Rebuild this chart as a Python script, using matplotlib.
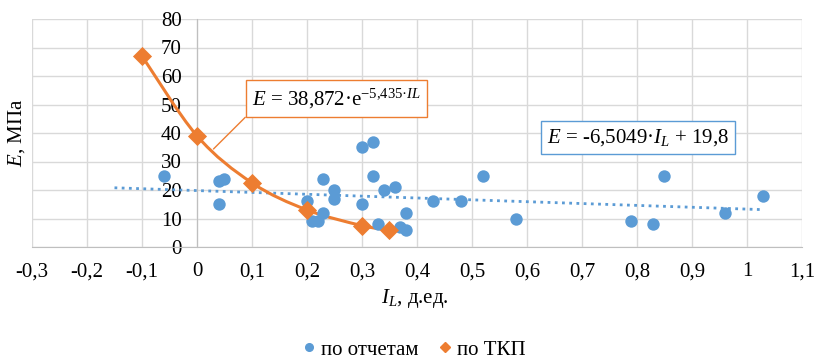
import matplotlib
matplotlib.use("Agg")
import matplotlib.pyplot as plt
from matplotlib.path import Path
from matplotlib.patches import PathPatch
from matplotlib.lines import Line2D

plt.rcParams['font.family'] = ['Liberation Serif', 'DejaVu Serif']
plt.rcParams['mathtext.fontset'] = 'custom'
plt.rcParams['mathtext.rm'] = 'Liberation Serif'
plt.rcParams['mathtext.it'] = 'Liberation Serif:italic'

# data: по отчетам (reports)
il_rep = [-0.06, 0.04, 0.05, 0.04, 0.20, 0.21, 0.22, 0.23, 0.23, 0.25, 0.25,
          0.30, 0.30, 0.32, 0.32, 0.33, 0.34, 0.36, 0.37, 0.38, 0.38,
          0.43, 0.48, 0.52, 0.58, 0.79, 0.83, 0.85, 0.96, 1.03]
e_rep = [25, 23, 24, 15, 16, 9, 9, 24, 12, 20, 17,
         35, 15, 37, 25, 8, 20, 21, 7, 6, 12,
         16, 16, 25, 10, 9, 8, 25, 12, 18]

# data: по ТКП
il_tkp = [-0.1, 0.0, 0.1, 0.2, 0.3, 0.35]
e_tkp = [67, 39, 22.5, 13, 7.5, 6]

# linear trendline range and coefficients
trend_x = [-0.15, 1.03]
slope, intercept = -6.5049, 19.8

x_ticks = [i / 10 for i in range(-3, 12)]
x_labels = ['-0,3', '-0,2', '-0,1', '0', '0,1', '0,2', '0,3', '0,4',
            '0,5', '0,6', '0,7', '0,8', '0,9', '1', '1,1']

blue = '#5B9BD5'
orange = '#ED7D31'

fig = plt.figure(figsize=(8.17, 3.62), dpi=100)
ax = fig.add_axes([32/817, 1 - 247/362, 770/817, 228/362])

ax.set_xlim(-0.3, 1.1)
ax.set_ylim(0, 80)
ax.set_xticks(x_ticks)
ax.set_xticklabels(x_labels)
ax.set_yticks(range(0, 81, 10))
ax.grid(True, color='#D9D9D9', linewidth=1)
ax.set_axisbelow(True)

for s in ['top', 'right']:
    ax.spines[s].set_visible(False)
ax.spines['left'].set_position(('data', 0))
ax.spines['left'].set_color('#BFBFBF')
ax.spines['bottom'].set_color('#BFBFBF')
ax.tick_params(axis='both', length=0, labelsize=15)
ax.tick_params(axis='x', pad=11)
ax.tick_params(axis='y', pad=11)

# trendline
ty = [slope * x + intercept for x in trend_x]
ax.plot(trend_x, ty, color=blue, linestyle=(0, (1, 1.6)), linewidth=2, zorder=2)

# smooth curve through TKP points (Catmull-Rom -> Bezier)
pts = list(zip(il_tkp, e_tkp))
verts = [pts[0]]
codes = [Path.MOVETO]
n = len(pts)
for i in range(n - 1):
    p0 = pts[i - 1] if i > 0 else pts[i]
    p1 = pts[i]
    p2 = pts[i + 1]
    p3 = pts[i + 2] if i + 2 < n else pts[i + 1]
    c1 = (p1[0] + (p2[0] - p0[0]) / 6, p1[1] + (p2[1] - p0[1]) / 6)
    c2 = (p2[0] - (p3[0] - p1[0]) / 6, p2[1] - (p3[1] - p1[1]) / 6)
    verts += [c1, c2, p2]
    codes += [Path.CURVE4] * 3
ax.add_patch(PathPatch(Path(verts, codes), facecolor='none', edgecolor=orange,
                       linewidth=2.2, zorder=3))

ax.scatter(il_rep, e_rep, s=80, color=blue, zorder=4, linewidths=0)
ax.scatter(il_tkp, e_tkp, s=95, marker='D', color=orange, zorder=5, linewidths=0)

# equation labels
ax.annotate('$E$ = 38,872\u00b7e$^{\\mathrm{-5{,}435\u00b7}\\mathit{IL}}$', xy=(0.03, 34.4),
            xytext=(0.2536, 52.1), ha='center', va='center', fontsize=15,
            bbox=dict(boxstyle='square,pad=0.3', fc='white', ec=orange, lw=1),
            arrowprops=dict(arrowstyle='-', color=orange, lw=1, relpos=(0, 0),
                            shrinkA=0, shrinkB=0),
            zorder=6)
ax.text(0.802, 38.4, '$E$ = -6,5049\u00b7$I_L$ + 19,8', ha='center', va='center',
        fontsize=15, zorder=6,
        bbox=dict(boxstyle='square,pad=0.3', fc='white', ec=blue, lw=1))

fig.text(17/817, 1 - 133/362, r'$E$, МПа', rotation=90, ha='center', va='center',
         fontsize=15)
fig.text(415/817, 1 - 298/362, r'$I_L$, д.ед.', ha='center', va='center', fontsize=15)

handles = [Line2D([], [], marker='o', color=blue, linestyle='none', markersize=5.5),
           Line2D([], [], marker='D', color=orange, linestyle='none', markersize=5.5)]
fig.legend(handles, ['по отчетам', 'по ТКП'], loc='center', ncol=2, frameon=False,
           bbox_to_anchor=(412/817, 1 - 350/362), fontsize=15,
           handletextpad=0.05, columnspacing=0.8, handlelength=1)

fig.savefig('out.png', dpi=100)
